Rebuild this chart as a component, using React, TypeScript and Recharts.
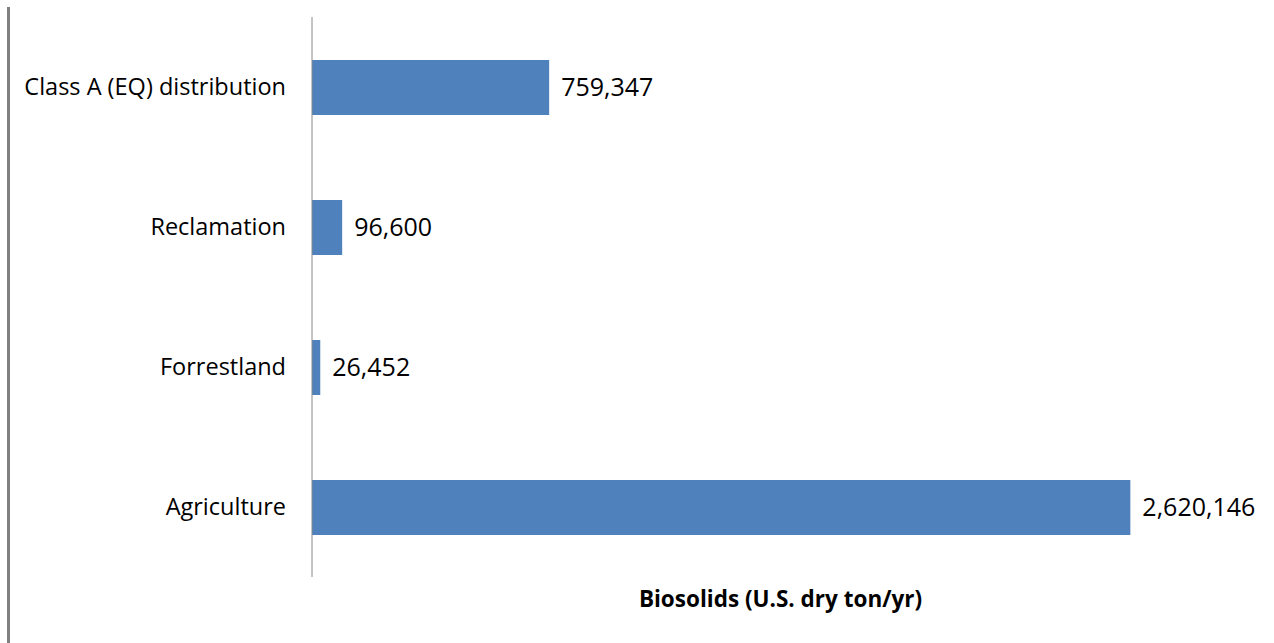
import React from "react";
import { BarChart, Bar, XAxis, YAxis, LabelList, Label } from "recharts";

const categories = ["Class A (EQ) distribution", "Reclamation", "Forrestland", "Agriculture"];
const values = [759347, 96600, 26452, 2620146];
const xDomain = [0, 3000000];
const xLabel = "Biosolids (U.S. dry ton/yr)";

const data = categories.map((name, i) => ({ name, value: values[i] }));

const FONT = "'Open Sans', sans-serif";

export default function App() {
  return (
    <div style={{ position: "absolute", left: 0, top: 0, width: 1274, height: 643, background: "#fff" }}>
      <div style={{ position: "absolute", left: 7, top: 7, width: 3, height: 636, background: "#808080" }} />
      <div style={{ position: "absolute", left: 0, top: 0 }}>
        <BarChart
          width={1274}
          height={643}
          data={data}
          layout="vertical"
          margin={{ top: 17, right: 25, bottom: 0, left: 0 }}
          barSize={55}
        >
          <XAxis
            type="number"
            domain={xDomain}
            tick={false}
            axisLine={false}
            tickLine={false}
            height={66}
          >
            <Label
              value={xLabel}
              position="insideTop"
              offset={14}
              style={{ fontFamily: FONT, fontSize: 22.5, fontWeight: 700, fill: "#000" }}
            />
          </XAxis>
          <YAxis
            type="category"
            dataKey="name"
            width={312}
            tickLine={false}
            tickSize={0}
            tickMargin={26}
            axisLine={{ stroke: "#888", strokeWidth: 1 }}
            tick={{ fontFamily: FONT, fontSize: 23.5, fill: "#000" }}
          />
          <Bar dataKey="value" fill="#4F81BD" isAnimationActive={false}>
            <LabelList
              dataKey="value"
              position="right"
              offset={12}
              formatter={(v: number) => v.toLocaleString("en-US")}
              style={{ fontFamily: FONT, fontSize: 25, fill: "#000" }}
            />
          </Bar>
        </BarChart>
      </div>
    </div>
  );
}
